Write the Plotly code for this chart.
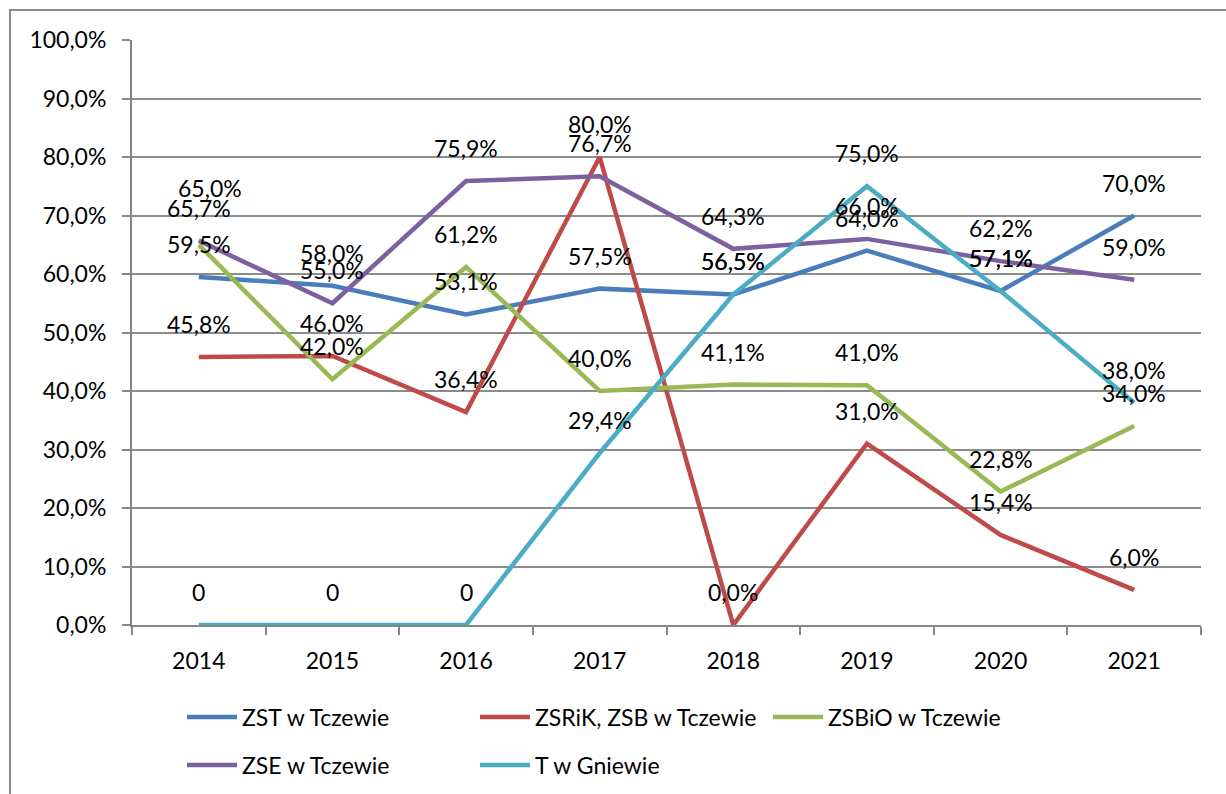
import plotly.graph_objects as go

years = ["2014", "2015", "2016", "2017", "2018", "2019", "2020", "2021"]
series_names = ["ZST w Tczewie", "ZSRiK, ZSB w Tczewie", "ZSBiO w Tczewie", "ZSE w Tczewie", "T w Gniewie"]
zst = [59.5, 58.0, 53.1, 57.5, 56.5, 64.0, 57.1, 70.0]
zsrik = [45.8, 46.0, 36.4, 80.0, 0.0, 31.0, 15.4, 6.0]
zsbio = [65.0, 42.0, 61.2, 40.0, 41.1, 41.0, 22.8, 34.0]
zse = [65.7, 55.0, 75.9, 76.7, 64.3, 66.0, 62.2, 59.0]
tgn = [0.0, 0.0, 0.0, 29.4, 56.5, 75.0, 57.1, 38.0]
y_ticks = [0, 10, 20, 30, 40, 50, 60, 70, 80, 90, 100]

values = [zst, zsrik, zsbio, zse, tgn]
colors = ["#4A7EBB", "#BE4B48", "#98B954", "#7D60A0", "#4BACC6"]

W, H = 1226, 794
L, R, T, B = 132, 1201, 40, 625
FONT = "Lato, Carlito, Calibri, sans-serif"
FS = 23


def fmt(v):
    return f"{v:.1f}".replace(".", ",") + "%"


def label(si, v):
    if si == 4 and v == 0:
        return "0"
    return fmt(v)


# label offsets (pixels) differing from the default "above" placement
special_offsets = {(2, 0): (11, 57)}

fig = go.Figure()
for si, (name, vals, col) in enumerate(zip(series_names, values, colors)):
    fig.add_trace(go.Scatter(
        x=years, y=vals, mode="lines", name=name,
        line=dict(color=col, width=4.5),
        legend="legend" if si < 3 else "legend2",
        hoverinfo="skip",
    ))

annotations = []
for si, vals in enumerate(values):
    for ci, v in enumerate(vals):
        xs, ys = special_offsets.get((si, ci), (0, 33))
        annotations.append(dict(
            x=ci, y=v, xref="x", yref="y", text=label(si, v),
            showarrow=False, xshift=xs, yshift=ys,
            xanchor="center", yanchor="middle",
            font=dict(family=FONT, size=FS, color="black"),
        ))

pw, ph = R - L, B - T


def px(xp):
    return (xp - L) / pw


def py(yp):
    return (B - yp) / ph


leg_common = dict(orientation="h", xanchor="left", yanchor="middle",
                  entrywidth=228, entrywidthmode="pixels", itemwidth=50,
                  font=dict(family=FONT, size=FS, color="black"),
                  bgcolor="rgba(0,0,0,0)")

fig.update_layout(
    width=W, height=H,
    margin=dict(l=L, r=W - R, t=T, b=H - B, autoexpand=False),
    paper_bgcolor="white", plot_bgcolor="white",
    font=dict(family=FONT, size=FS, color="black"),
    separators=", ",
    annotations=annotations,
    shapes=[dict(type="rect", xref="paper", yref="paper",
                 x0=px(10), x1=px(1250), y0=py(820), y1=py(10),
                 line=dict(color="#8a8a8a", width=2), layer="below")],
    legend=dict(x=px(182), y=py(717), **leg_common),
    legend2=dict(x=px(182), y=py(765), **leg_common),
    showlegend=True,
)

fig.update_xaxes(
    type="category", categoryorder="array", categoryarray=years,
    range=[-0.5, len(years) - 0.5],
    showline=True, linecolor="#868686", linewidth=2,
    ticks="outside", ticklen=8, tickcolor="#868686", tickwidth=2,
    tickson="boundaries", showgrid=False, ticklabelstandoff=14,
    tickfont=dict(family=FONT, size=FS, color="black"),
)
fig.update_yaxes(
    range=[0, 100], tickvals=y_ticks, ticktext=[fmt(t) for t in y_ticks],
    showline=True, linecolor="#868686", linewidth=2,
    ticks="outside", ticklen=8, tickcolor="#868686", tickwidth=2,
    showgrid=True, gridcolor="#8c8c8c", gridwidth=2, zeroline=False,
    ticklabelstandoff=11,
    tickfont=dict(family=FONT, size=FS, color="black"),
)

fig.write_html("out.html", config={"displayModeBar": False},
               post_script="document.body.style.margin='0';")
